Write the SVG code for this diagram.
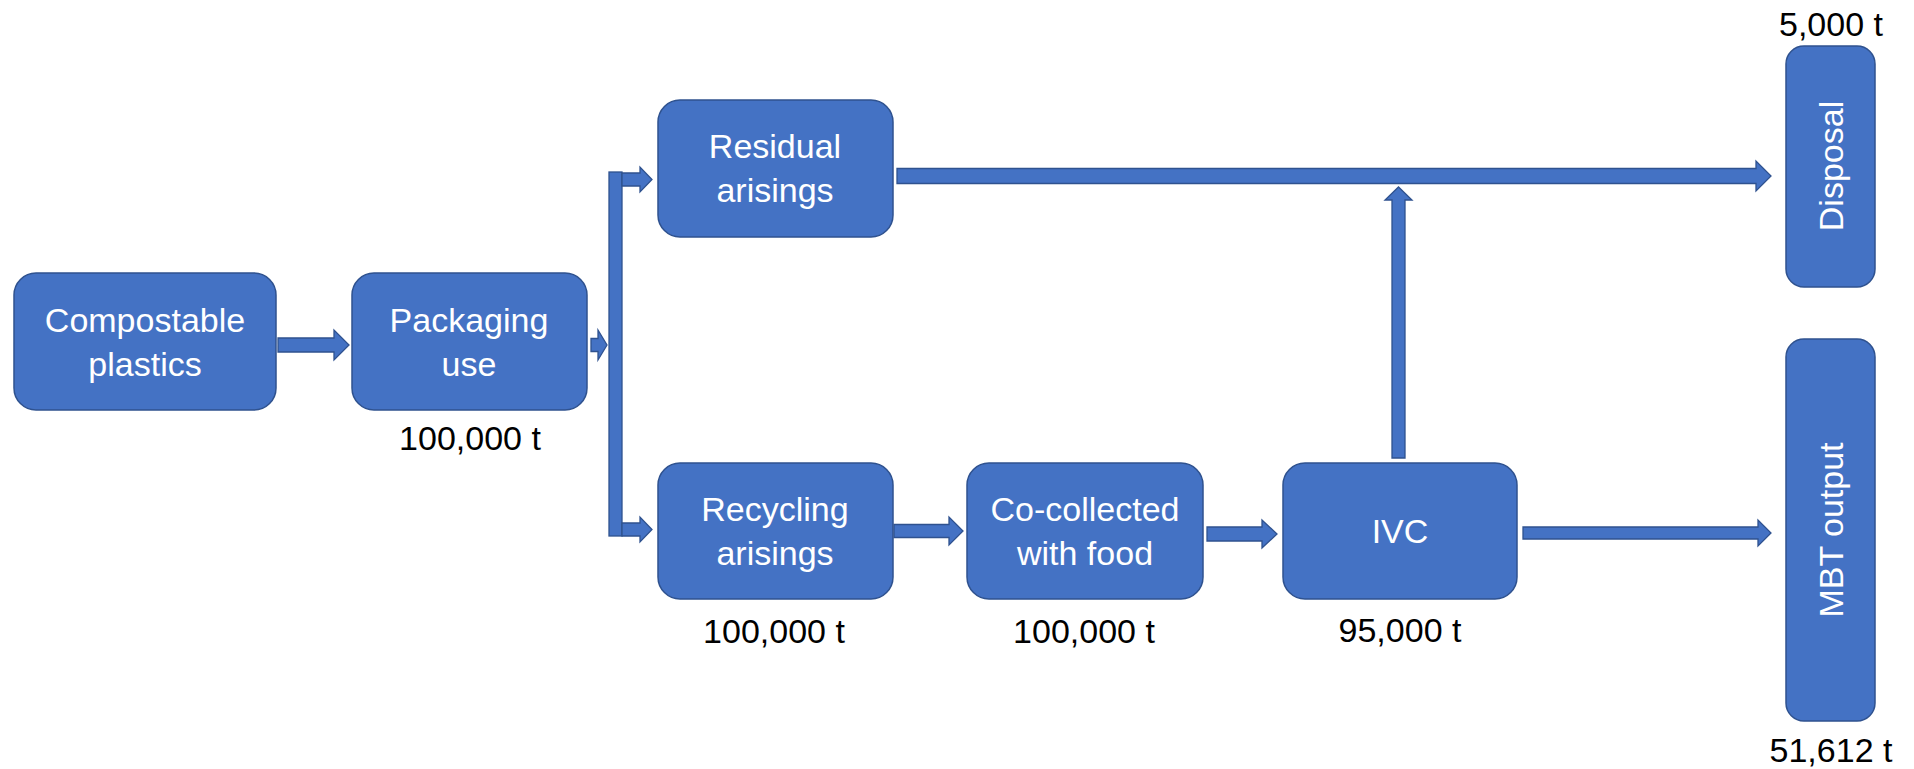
<svg xmlns="http://www.w3.org/2000/svg" width="1914" height="769" viewBox="0 0 1914 769">
  <style>
    .box { fill: #4472C4; stroke: #2F528F; stroke-width: 1.5; }
    .arrow { fill: #4472C4; stroke: #2F528F; stroke-width: 1.3; stroke-linejoin: miter; }
    .lbl { font-family: "Liberation Sans", Arial, sans-serif; font-size: 34px; fill: #FFFFFF; text-anchor: middle; }
    .qty { font-family: "Liberation Sans", Arial, sans-serif; font-size: 34px; fill: #000000; text-anchor: middle; }
  </style>
  <rect width="1914" height="769" fill="#FFFFFF"/>

  <!-- block arrows -->
  <g id="connectors">
    <!-- compostable plastics to packaging use -->
    <path class="arrow" d="M278,338 L334,338 L334,330 L349,345 L334,360 L334,352 L278,352 Z"/>
    <!-- packaging use to the splitter -->
    <path class="arrow" d="M591,338.5 L598,338.5 L598,330 L607,345 L598,360 L598,351.5 L591,351.5 Z"/>
    <!-- splitter bar -->
    <rect class="arrow" x="609" y="172" width="13" height="364"/>
    <path class="arrow" d="M622,173 L640,173 L640,167 L652,179.5 L640,192 L640,186 L622,186 Z"/>
    <path class="arrow" d="M622,523 L640,523 L640,517 L652,529.5 L640,542 L640,536 L622,536 Z"/>
    <!-- residual arisings to disposal -->
    <path class="arrow" d="M897,168.5 L1756,168.5 L1756,161 L1771,176 L1756,191 L1756,183.5 L897,183.5 Z"/>
    <!-- recycling arisings to co-collected -->
    <path class="arrow" d="M894,524.5 L949,524.5 L949,517 L963,531 L949,545 L949,537.5 L894,537.5 Z"/>
    <!-- co-collected to IVC -->
    <path class="arrow" d="M1207,527 L1262,527 L1262,520 L1277,534 L1262,548 L1262,541 L1207,541 Z"/>
    <!-- IVC to MBT output -->
    <path class="arrow" d="M1523,527 L1758,527 L1758,520 L1771,533 L1758,546 L1758,539 L1523,539 Z"/>
    <!-- IVC up to the disposal line -->
    <path class="arrow" d="M1392,458 L1392,200 L1385,200 L1398.5,187 L1412,200 L1405,200 L1405,458 Z"/>
  </g>

  <g id="node-compostable">
    <rect class="box" x="14" y="273" width="262" height="137" rx="22"/>
    <text class="lbl" x="145" y="332">Compostable</text>
    <text class="lbl" x="145" y="376">plastics</text>
  </g>

  <g id="node-packaging">
    <rect class="box" x="352" y="273" width="235" height="137" rx="22"/>
    <text class="lbl" x="469" y="332">Packaging</text>
    <text class="lbl" x="469" y="376">use</text>
    <text class="qty" x="470" y="450">100,000 t</text>
  </g>

  <g id="node-residual">
    <rect class="box" x="658" y="100" width="235" height="137" rx="22"/>
    <text class="lbl" x="775" y="158">Residual</text>
    <text class="lbl" x="775" y="202">arisings</text>
  </g>

  <g id="node-recycling">
    <rect class="box" x="658" y="463" width="235" height="136" rx="22"/>
    <text class="lbl" x="775" y="521">Recycling</text>
    <text class="lbl" x="775" y="565">arisings</text>
    <text class="qty" x="774" y="643">100,000 t</text>
  </g>

  <g id="node-cocollected">
    <rect class="box" x="967" y="463" width="236" height="136" rx="22"/>
    <text class="lbl" x="1085" y="521">Co-collected</text>
    <text class="lbl" x="1085" y="565">with food</text>
    <text class="qty" x="1084" y="643">100,000 t</text>
  </g>

  <g id="node-ivc">
    <rect class="box" x="1283" y="463" width="234" height="136" rx="22"/>
    <text class="lbl" x="1400" y="543">IVC</text>
    <text class="qty" x="1400" y="642">95,000 t</text>
  </g>

  <g id="node-disposal">
    <rect class="box" x="1786" y="46" width="89" height="241" rx="18"/>
    <text class="lbl" transform="translate(1831,166) rotate(-90)" x="0" y="12">Disposal</text>
    <text class="qty" x="1831" y="36">5,000 t</text>
  </g>

  <g id="node-mbt">
    <rect class="box" x="1786" y="339" width="89" height="382" rx="18"/>
    <text class="lbl" transform="translate(1831,530) rotate(-90)" x="0" y="12">MBT output</text>
    <text class="qty" x="1831" y="762">51,612 t</text>
  </g>
</svg>
